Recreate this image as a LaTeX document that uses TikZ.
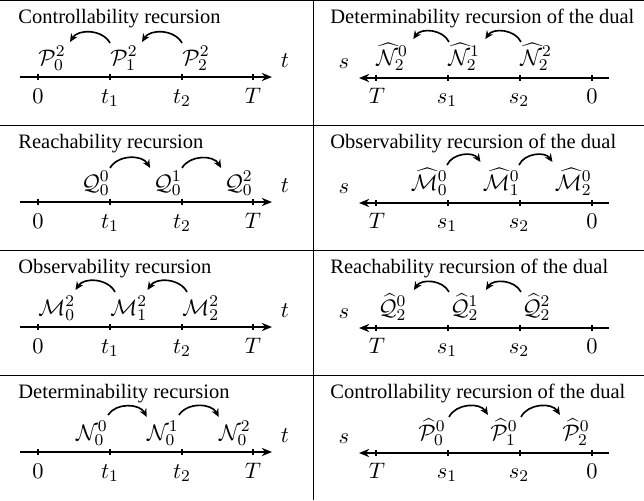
\documentclass[tikz,border=0pt]{standalone}
\usepackage[no-math]{fontspec}
\setmainfont{Liberation Serif}
\usetikzlibrary{arrows.meta}
\begin{document}
\begin{tikzpicture}[x=0.4878pt,y=-0.4878pt,
  axis/.style={thick,-{Stealth[length=5pt,width=4pt]}},
  raxis/.style={thick,{Stealth[length=5pt,width=4pt]}-},
  tickmark/.style={semithick},
  rec/.style={thick,-{Stealth[length=4pt,width=3.6pt]}},
  mf/.style={font=\fontsize{10.95}{13}\selectfont},
  lbl/.style={mf,inner sep=0pt,anchor=base},
  ttl/.style={inner sep=0pt,anchor=base west},
  mw/.style={mf,inner sep=0pt,anchor=base west},
  me/.style={mf,inner sep=0pt,anchor=base east},
  gridline/.style={line width=0.4pt}]
\useasboundingbox (0,0) rectangle (644,500);
% table rules
\draw[gridline] (0,0.5) -- (644,0.5);
\foreach \yy in {125,250,375} \draw[gridline] (0,\yy) -- (644,\yy);
\draw[gridline] (313,0) -- (313,500);

\newcommand\leftaxis[1]{%
  \coordinate (#1s) at (20,77); \coordinate (#1e) at (272,77);
  \draw[axis] (#1s) -- (#1e);
  \foreach \xx in {38,110,182,253} \draw[tickmark] (\xx,74) -- (\xx,80);
  \node[lbl] (#1l0) at (38,103) {$0$};
  \node[lbl] (#1l1) at (110,103) {$t_1$};
  \node[lbl] (#1l2) at (182,103) {$t_2$};
  \node[lbl] (#1l3) at (253,103) {$T$};
  \node[lbl] (#1v) at (285,67) {$t$};
}
\newcommand\rightaxis[1]{%
  \coordinate (#1s) at (359,78); \coordinate (#1e) at (609,78);
  \draw[raxis] (#1s) -- (#1e);
  \foreach \xx in {376,448,520,592} \draw[tickmark] (\xx,75) -- (\xx,81);
  \node[lbl] (#1l0) at (377,103) {$T$};
  \node[lbl] (#1l1) at (447,103) {$s_1$};
  \node[lbl] (#1l2) at (519,103) {$s_2$};
  \node[lbl] (#1l3) at (592,103) {$0$};
  \node[lbl] (#1v) at (344,68) {$s$};
}

% ---------- Row 1 left: controllability
\begin{scope}
  \node[ttl] (ct) at (18,23) {Controllability recursion};
  \leftaxis{ca}
  \node[mw] (c0) at (38,65) {$\mathcal{P}_0^2$};
  \node[mw] (c1) at (110,65) {$\mathcal{P}_1^2$};
  \node[mw] (c2) at (182,65) {$\mathcal{P}_2^2$};
  \draw[rec] ([shift={(0,-22)}]c1.base west) to[bend right=60] ([shift={(4,-23)}]c0.base east);
  \draw[rec] ([shift={(0,-22)}]c2.base west) to[bend right=60] ([shift={(4,-23)}]c1.base east);
\end{scope}
% ---------- Row 1 right: determinability of dual
\begin{scope}
  \node[ttl] (dt) at (330,23) {Determinability recursion of the dual};
  \rightaxis{da}
  \node[mw] (d0) at (376,65) {$\widehat{\mathcal{N}}_2^0$};
  \node[mw] (d1) at (448,65) {$\widehat{\mathcal{N}}_2^1$};
  \node[mw] (d2) at (520,65) {$\widehat{\mathcal{N}}_2^2$};
  \draw[rec] ([shift={(1,-23)}]d1.base west) to[bend right=60] ([shift={(5,-26)}]d0.base east);
  \draw[rec] ([shift={(1,-23)}]d2.base west) to[bend right=60] ([shift={(5,-26)}]d1.base east);
\end{scope}

% ---------- Row 2 left: reachability
\begin{scope}[shift={(0,125)}]
  \node[ttl] (rt) at (18,23) {Reachability recursion};
  \leftaxis{ra}
  \node[me] (r0) at (110,65) {$\mathcal{Q}_0^0$};
  \node[me] (r1) at (182,65) {$\mathcal{Q}_0^1$};
  \node[me] (r2) at (253,65) {$\mathcal{Q}_0^2$};
  \draw[rec] ([shift={(0,-22)}]r0.base east) to[bend left=60] ([shift={(-3,-22)}]r1.base west);
  \draw[rec] ([shift={(0,-22)}]r1.base east) to[bend left=60] ([shift={(-3,-22)}]r2.base west);
\end{scope}
% ---------- Row 2 right: observability of dual
\begin{scope}[shift={(0,125)}]
  \node[ttl] (ot) at (330,23) {Observability recursion of the dual};
  \rightaxis{oa}
  \node[me] (o0) at (448,65) {$\widehat{\mathcal{M}}_0^0$};
  \node[me] (o1) at (520,65) {$\widehat{\mathcal{M}}_1^0$};
  \node[me] (o2) at (592,65) {$\widehat{\mathcal{M}}_2^0$};
  \draw[rec] ([shift={(-1,-25)}]o0.base east) to[bend left=60] ([shift={(-2,-28)}]o1.base west);
  \draw[rec] ([shift={(-1,-25)}]o1.base east) to[bend left=60] ([shift={(-2,-28)}]o2.base west);
\end{scope}

% ---------- Row 3 left: observability
\begin{scope}[shift={(0,250)}]
  \node[ttl] (mt) at (18,23) {Observability recursion};
  \leftaxis{ma}
  \node[mw] (m0) at (38,65) {$\mathcal{M}_0^2$};
  \node[mw] (m1) at (110,65) {$\mathcal{M}_1^2$};
  \node[mw] (m2) at (182,65) {$\mathcal{M}_2^2$};
  \draw[rec] ([shift={(5,-23)}]m1.base west) to[bend right=60] ([shift={(0,-25)}]m0.base east);
  \draw[rec] ([shift={(5,-23)}]m2.base west) to[bend right=60] ([shift={(0,-25)}]m1.base east);
\end{scope}
% ---------- Row 3 right: reachability of dual
\begin{scope}[shift={(0,250)}]
  \node[ttl] (qt) at (330,23) {Reachability recursion of the dual};
  \rightaxis{qa}
  \node[mw] (q0) at (378,65) {$\widehat{\mathcal{Q}}_2^0$};
  \node[mw] (q1) at (450,65) {$\widehat{\mathcal{Q}}_2^1$};
  \node[mw] (q2) at (522,65) {$\widehat{\mathcal{Q}}_2^2$};
  \draw[rec] ([shift={(-1,-23)}]q1.base west) to[bend right=60] ([shift={(7,-25)}]q0.base east);
  \draw[rec] ([shift={(-1,-23)}]q2.base west) to[bend right=60] ([shift={(7,-25)}]q1.base east);
\end{scope}

% ---------- Row 4 left: determinability
\begin{scope}[shift={(0,375)}]
  \node[ttl] (nt) at (18,23) {Determinability recursion};
  \leftaxis{na}
  \node[me] (n0) at (108,65) {$\mathcal{N}_0^0$};
  \node[me] (n1) at (179,65) {$\mathcal{N}_0^1$};
  \node[me] (n2) at (251,65) {$\mathcal{N}_0^2$};
  \draw[rec] ([shift={(0,-25)}]n0.base east) to[bend left=60] ([shift={(0,-23)}]n1.base west);
  \draw[rec] ([shift={(0,-25)}]n1.base east) to[bend left=60] ([shift={(0,-23)}]n2.base west);
\end{scope}
% ---------- Row 4 right: controllability of dual
\begin{scope}[shift={(0,375)}]
  \node[ttl] (pt) at (330,23) {Controllability recursion of the dual};
  \rightaxis{pa}
  \node[me] (p0) at (446,65) {$\widehat{\mathcal{P}}_0^0$};
  \node[me] (p1) at (518,65) {$\widehat{\mathcal{P}}_1^0$};
  \node[me] (p2) at (590,65) {$\widehat{\mathcal{P}}_2^0$};
  \draw[rec] ([shift={(3,-23)}]p0.base east) to[bend left=60] ([shift={(-2,-25)}]p1.base west);
  \draw[rec] ([shift={(3,-23)}]p1.base east) to[bend left=60] ([shift={(-2,-25)}]p2.base west);
\end{scope}
\end{tikzpicture}
\end{document}
